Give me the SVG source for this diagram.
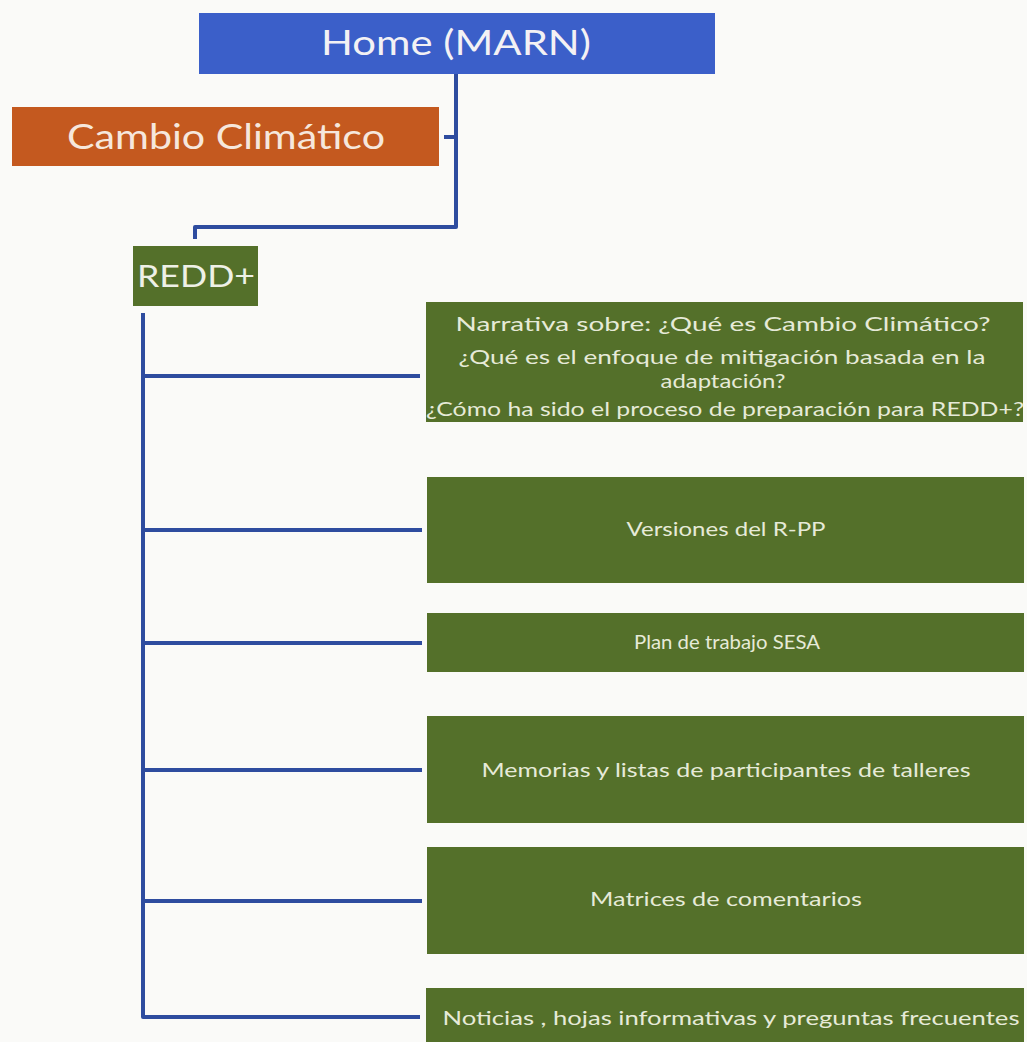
<svg xmlns="http://www.w3.org/2000/svg" width="1027" height="1042" viewBox="0 0 1027 1042">
<style>
.bg{fill:#fafaf8}
.blue{fill:#3b5fc9}
.orange{fill:#c4591f}
.green{fill:#54702a}
.t{font-family:Lato,"Open Sans","Liberation Sans",sans-serif;text-anchor:middle}
.big{fill:#f3f1f4;font-size:35px}
.cc{fill:#f6e7dc;font-size:34px}
.rd{fill:#eef0e6;font-size:31px;text-anchor:start}
.sm{fill:#e6ead8;font-size:19px}
.md{fill:#e6ead8;font-size:20px}
.c{stroke:#2e4c9f;stroke-width:4;fill:none;stroke-linejoin:round}
</style>
<rect class="bg" x="0" y="0" width="1027" height="1042"/>
<g id="connectors">
<path class="c" d="M456 74 V227 H195 V239"/>
<path class="c" d="M444 137 H456"/>
<path class="c" d="M143 313 V1017 H420"/>
<path class="c" d="M143 376 H420"/>
<path class="c" d="M143 530 H422"/>
<path class="c" d="M143 643 H422"/>
<path class="c" d="M143 770 H422"/>
<path class="c" d="M143 901 H422"/>
</g>
<g id="home">
<rect class="blue" x="199" y="13" width="516" height="61"/>
<text class="t big" x="456" y="55" textLength="270" lengthAdjust="spacingAndGlyphs">Home (MARN)</text>
</g>
<g id="cambio">
<rect class="orange" x="12" y="107" width="427" height="59"/>
<text class="t cc" x="226" y="149" textLength="318" lengthAdjust="spacingAndGlyphs">Cambio Climático</text>
</g>
<g id="redd">
<rect class="green" x="133" y="246" width="125" height="60"/>
<text class="t rd" x="137" y="287" textLength="118" lengthAdjust="spacingAndGlyphs">REDD+</text>
</g>
<g id="narrativa">
<rect class="green" x="426" y="302" width="597" height="120"/>
<text class="t sm" x="723" y="331" textLength="535" lengthAdjust="spacingAndGlyphs">Narrativa sobre: ¿Qué es Cambio Climático?</text>
<text class="t sm" x="722" y="364" textLength="527" lengthAdjust="spacingAndGlyphs">¿Qué es el enfoque de mitigación basada en la</text>
<text class="t sm" x="723" y="388" textLength="125" lengthAdjust="spacingAndGlyphs">adaptación?</text>
<text class="t sm" x="725" y="416" textLength="598" lengthAdjust="spacingAndGlyphs">¿Cómo ha sido el proceso de preparación para REDD+?</text>
</g>
<g id="versiones">
<rect class="green" x="427" y="477" width="597" height="106"/>
<text class="t md" x="726" y="536" textLength="199" lengthAdjust="spacingAndGlyphs">Versiones del R-PP</text>
</g>
<g id="plan">
<rect class="green" x="427" y="613" width="597" height="59"/>
<text class="t md" x="727" y="649" textLength="186" lengthAdjust="spacingAndGlyphs">Plan de trabajo SESA</text>
</g>
<g id="memorias">
<rect class="green" x="427" y="716" width="597" height="107"/>
<text class="t md" x="726" y="777" textLength="489" lengthAdjust="spacingAndGlyphs">Memorias y listas de participantes de talleres</text>
</g>
<g id="matrices">
<rect class="green" x="427" y="847" width="597" height="107"/>
<text class="t md" x="726" y="906" textLength="272" lengthAdjust="spacingAndGlyphs">Matrices de comentarios</text>
</g>
<g id="noticias">
<rect class="green" x="426" y="988" width="598" height="54"/>
<text class="t md" x="731" y="1025" textLength="577" lengthAdjust="spacingAndGlyphs">Noticias , hojas informativas y preguntas frecuentes</text>
</g>
</svg>
